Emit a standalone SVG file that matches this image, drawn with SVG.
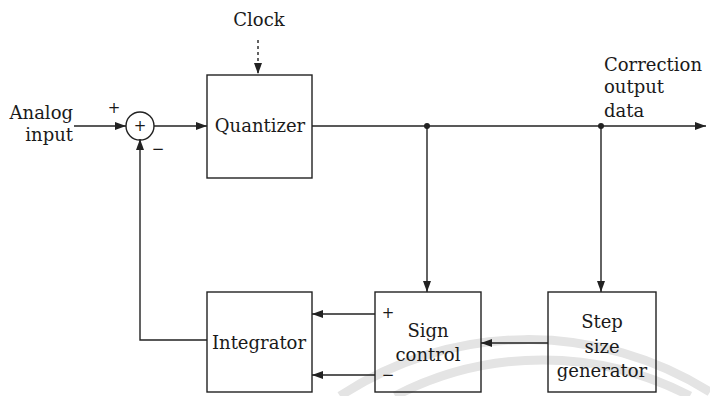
<svg xmlns="http://www.w3.org/2000/svg" width="710" height="396" viewBox="0 0 710 396">
<style>
.box{fill:none;stroke:#222;stroke-width:1.4}
.ln{fill:none;stroke:#222;stroke-width:1.4}
.t{font-family:"DejaVu Serif","Liberation Serif",serif;font-size:18px;fill:#1a1a1a}
.s{font-family:"DejaVu Sans","Liberation Sans",sans-serif;font-size:15px;fill:#1a1a1a}
.wm{fill:none;stroke:#e4e4e4;stroke-width:9}
</style>
<defs>
<marker id="ah" markerWidth="12" markerHeight="8" refX="11" refY="4" orient="auto" markerUnits="userSpaceOnUse">
<path d="M0,0 L11,4 L0,8 Z" fill="#222"/>
</marker>
</defs>
<rect width="710" height="396" fill="#fff"/>
<g id="watermark">
<path class="wm" d="M340,396 A342,342 0 0 1 710,392"/>
<path class="wm" d="M395,396 A320,320 0 0 1 690,396"/>
</g>
<g id="connectors">
<line class="ln" x1="74" y1="126" x2="126" y2="126" marker-end="url(#ah)"/>
<line class="ln" x1="154" y1="126" x2="207" y2="126" marker-end="url(#ah)"/>
<line class="ln" x1="258" y1="40" x2="258" y2="74" stroke-dasharray="3,3" marker-end="url(#ah)"/>
<line class="ln" x1="312" y1="126" x2="706" y2="126" marker-end="url(#ah)"/>
<circle cx="427" cy="126" r="3" fill="#222"/>
<circle cx="601" cy="126" r="3" fill="#222"/>
<line class="ln" x1="427" y1="126" x2="427" y2="292" marker-end="url(#ah)"/>
<line class="ln" x1="601" y1="126" x2="601" y2="292" marker-end="url(#ah)"/>
<line class="ln" x1="548" y1="343" x2="481" y2="343" marker-end="url(#ah)"/>
<line class="ln" x1="375" y1="314" x2="312" y2="314" marker-end="url(#ah)"/>
<line class="ln" x1="375" y1="375" x2="312" y2="375" marker-end="url(#ah)"/>
<polyline class="ln" points="207,340 140,340 140,139" marker-end="url(#ah)"/>
</g>
<g id="clock-label"><text class="t" x="259" y="26" text-anchor="middle">Clock</text></g>
<g id="analog-input">
<text class="t" x="73" y="119" text-anchor="end">Analog</text>
<text class="t" x="73" y="141" text-anchor="end">input</text>
</g>
<g id="summer">
<circle cx="140" cy="126" r="14" fill="none" stroke="#222" stroke-width="1.4"/>
<text class="s" x="140" y="131" text-anchor="middle">+</text>
<text class="s" x="114" y="113" text-anchor="middle">+</text>
<text class="s" x="158" y="154" text-anchor="middle">−</text>
</g>
<g id="quantizer">
<rect class="box" x="207" y="75" width="105" height="103"/>
<text class="t" x="260" y="132" text-anchor="middle">Quantizer</text>
</g>
<g id="output-label">
<text class="t" x="604" y="71">Correction</text>
<text class="t" x="604" y="93">output</text>
<text class="t" x="604" y="117">data</text>
</g>
<g id="integrator">
<rect class="box" x="207" y="292" width="105" height="100"/>
<text class="t" x="259" y="349" text-anchor="middle">Integrator</text>
</g>
<g id="sign-control">
<rect class="box" x="375" y="292" width="106" height="100"/>
<text class="t" x="428" y="337" text-anchor="middle">Sign</text>
<text class="t" x="428" y="361" text-anchor="middle">control</text>
<text class="s" x="388" y="318" text-anchor="middle">+</text>
<text class="s" x="388" y="380" text-anchor="middle">−</text>
</g>
<g id="step-size-generator">
<rect class="box" x="548" y="292" width="108" height="100"/>
<text class="t" x="602" y="328" text-anchor="middle">Step</text>
<text class="t" x="602" y="353" text-anchor="middle">size</text>
<text class="t" x="602" y="377" text-anchor="middle">generator</text>
</g>
</svg>
